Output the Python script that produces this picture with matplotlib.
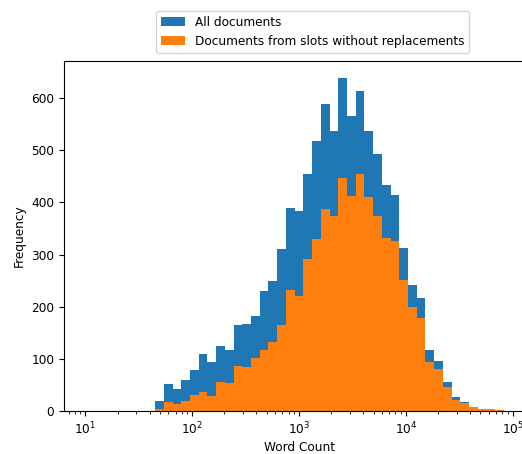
import numpy as np
from matplotlib import pyplot as plt

# log-spaced bins, 10 .. 1e5
edges = np.logspace(1, 5, 50)
centers = np.sqrt(edges[:-1] * edges[1:])

# counts per bin (bins 0..48)
all_docs = [0, 0, 0, 0, 0, 0, 0, 0,
            20, 51, 43, 60, 79, 109, 94, 125, 117, 165, 167, 183,
            230, 250, 310, 390, 383, 455, 517, 589, 537, 639,
            566, 614, 537, 492, 434, 414, 312, 241, 217, 117,
            96, 56, 26, 17, 8, 4, 3, 1, 0]
no_repl = [0, 0, 0, 0, 0, 0, 0, 0,
           3, 17, 13, 20, 31, 36, 29, 56, 54, 87, 84, 102,
           116, 132, 165, 232, 220, 292, 330, 388, 374, 446,
           412, 455, 411, 374, 332, 325, 252, 200, 178, 93,
           80, 46, 22, 15, 8, 4, 3, 1, 0]

labels = ["All documents", "Documents from slots without replacements"]

plt.rcParams['font.size'] = 8.7

fig = plt.figure(figsize=(5.22, 4.54), dpi=100)
ax = fig.add_axes([64/522, 43/454, 470/522, 350/454])

ax.hist(centers, bins=edges, weights=all_docs, color='#1f77b4', label=labels[0])
ax.hist(centers, bins=edges, weights=no_repl, color='#ff7f0e', label=labels[1])
ax.set_xscale('log')
ax.set_xlim(10**0.8, 10**5.2)
ax.set_xlabel('Word Count', labelpad=2.5)
ax.set_ylabel('Frequency')

fig.legend(loc='upper center', bbox_to_anchor=(312.5/522, 1 - 5/454))

fig.savefig('out.png', dpi=100)
